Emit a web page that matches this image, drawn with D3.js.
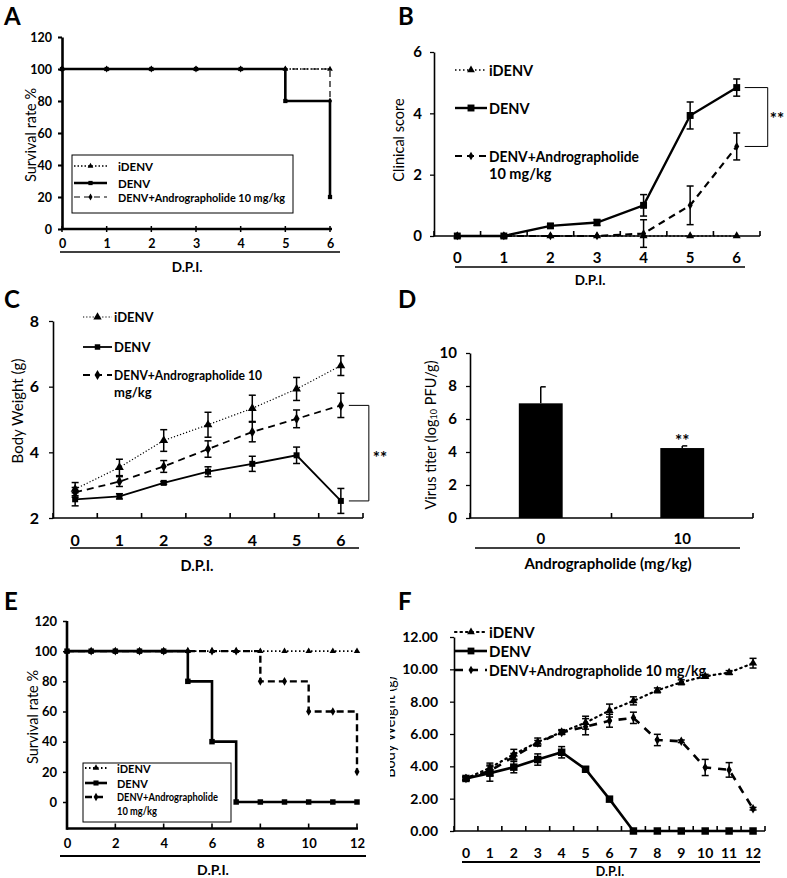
<!DOCTYPE html>
<html><head><meta charset="utf-8">
<script src="https://cdn.jsdelivr.net/npm/d3@7"></script>
<style>
body{margin:0;background:#fff}
svg{display:block}
text{font-family:Lato,"Open Sans",sans-serif;fill:#000}
</style>
</head><body>
<svg id="chart" width="787" height="878"></svg>
<script>
// ---------------- DATA ----------------
// Panel A : survival (%), days 0-6
const daysA = [0,1,2,3,4,5,6];
const survA_iDENV = [100,100,100,100,100,100,100];
const survA_DENV  = [100,100,100,100,100,80,20];
const survA_Andro = [100,100,100,100,100,100,80];

// Panel B : clinical score
const daysB = [0,1,2,3,4,5,6];
const scoreB_iDENV = [0,0,0,0,0,0,0];
const scoreB_DENV  = [0,0,0.33,0.44,1.0,3.93,4.84];
const errB_DENV    = [0,0,0.07,0.1,0.35,0.44,0.28];
const scoreB_Andro = [0,0,0,0,0.08,1.0,2.92];
const errB_Andro   = [0,0,0,0,0.45,0.63,0.44];

// Panel C : body weight (g)
const daysC = [0,1,2,3,4,5,6];
const wC_iDENV = [2.88,3.54,4.36,4.84,5.34,5.93,6.64];
const errC_iDENV = [0.2,0.25,0.33,0.38,0.4,0.35,0.3];
const wC_DENV  = [2.57,2.66,3.07,3.41,3.65,3.91,2.52];
const errC_DENV  = [0.2,0.08,0.04,0.15,0.23,0.25,0.38];
const wC_Andro = [2.78,3.11,3.57,4.1,4.62,5.02,5.43];
const errC_Andro = [0.15,0.15,0.18,0.25,0.3,0.27,0.37];

// Panel D : virus titer
const dosesD = ["0","10"];
const titerD = [6.95,4.24];
const errD   = [1.0,0.13];

// Panel E : survival (%), days 0-12
const daysE = [0,1,2,3,4,5,6,7,8,9,10,11,12];
const survE_iDENV = [100,100,100,100,100,100,100,100,100,100,100,100,100];
const survE_DENV  = [100,100,100,100,100,80,40,0,0,0,0,0,0];
const survE_Andro = [100,100,100,100,100,100,100,100,80,80,60,60,20];

// Panel F : body weight (g), days 0-12
const daysF = [0,1,2,3,4,5,6,7,8,9,10,11,12];
const wF_iDENV = [3.25,3.9,4.75,5.5,6.12,6.7,7.45,8.05,8.7,9.2,9.57,9.8,10.38];
const errF_iDENV = [0.1,0.3,0.3,0.25,0.15,0.4,0.4,0.25,0.15,0.15,0.12,0.12,0.3];
const wF_DENV  = [3.25,3.58,3.95,4.42,4.87,3.82,1.97,0,0,0,0,0,0];
const errF_DENV  = [0.1,0.5,0.35,0.35,0.35,0.15,0.1,0,0,0,0,0,0];
const wF_Andro = [3.25,3.72,4.6,5.45,6.1,6.45,6.82,7.0,5.63,5.55,3.93,3.78,1.38];
const errF_Andro = [0.1,0.3,0.2,0.15,0.1,0.5,0.4,0.35,0.35,0.08,0.5,0.45,0.08];

// ---------------- HELPERS ----------------
const svg = d3.select("#chart");
const FONT = 'Lato,"Open Sans",sans-serif';

function label(g, txt, x, y, size, opts={}) {
  const t = g.append("text").attr("x",x).attr("y",y)
    .attr("font-size",size).attr("font-weight",opts.weight||"bold")
    .attr("text-anchor",opts.anchor||"middle")
    .attr("dominant-baseline","central")
    .text(txt);
  if (opts.len) t.attr("textLength",opts.len).attr("lengthAdjust","spacingAndGlyphs");
  if (opts.rotate) t.attr("transform",`rotate(-90,${x},${y})`);
  return t;
}

function yAxisDraw(g, y, x0, ticks, fmt, fs, sw, pad) {
  const ax = d3.axisLeft(y).tickValues(ticks).tickFormat(fmt).tickSize(4).tickSizeOuter(0).tickPadding(pad);
  const a = g.append("g").attr("transform",`translate(${x0},0)`).call(ax);
  a.select(".domain").attr("stroke-width",sw).attr("stroke","#000");
  a.selectAll(".tick line").attr("stroke-width",sw*0.8).attr("stroke","#000");
  a.selectAll(".tick text").attr("font-size",fs).attr("font-weight","bold").attr("font-family",FONT).attr("fill","#000");
  return a;
}

function bandXAxis(g, x, y0, labelY, fs, sw) {
  const r = x.range();
  g.append("line").attr("x1",r[0]).attr("x2",r[1]).attr("y1",y0).attr("y2",y0)
    .attr("stroke","#000").attr("stroke-width",sw);
  const bounds = d3.range(x.domain().length+1).map(i => r[0] + i*x.step());
  g.selectAll(null).data(bounds).join("line")
    .attr("x1",d=>d).attr("x2",d=>d).attr("y1",y0).attr("y2",y0-5)
    .attr("stroke","#000").attr("stroke-width",sw);
  const ax = d3.axisBottom(x).tickSize(0).tickPadding(0);
  const a = g.append("g").attr("transform",`translate(0,${labelY})`).call(ax);
  a.select(".domain").remove();
  a.selectAll(".tick text").attr("font-size",fs).attr("font-weight","bold").attr("font-family",FONT)
    .attr("dy",null).attr("dominant-baseline","central").attr("fill","#000");
}

function marker(g, type, cx, cy, size) {
  const sym = type==="tri" ? d3.symbolTriangle : type==="sq" ? d3.symbolSquare : d3.symbolDiamond;
  g.append("path").attr("d", d3.symbol(sym, size)()).attr("transform",`translate(${cx},${cy})`).attr("fill","#000");
}

function errBars(g, xs, ys, errs, y, cap, sw) {
  xs.forEach((xv,i) => {
    if (!errs[i]) return;
    const yt = y(ys[i]+errs[i]), yb = y(ys[i]-errs[i]);
    g.append("line").attr("x1",xv).attr("x2",xv).attr("y1",yt).attr("y2",yb).attr("stroke","#000").attr("stroke-width",sw);
    [yt,yb].forEach(v => g.append("line").attr("x1",xv-cap).attr("x2",xv+cap).attr("y1",v).attr("y2",v).attr("stroke","#000").attr("stroke-width",sw));
  });
}

function seriesLine(g, pts, style, curve) {
  const line = d3.line().x(d=>d[0]).y(d=>d[1]).curve(curve||d3.curveLinear);
  const p = g.append("path").attr("d",line(pts)).attr("fill","none").attr("stroke","#000")
    .attr("stroke-width",style.w);
  if (style.dash) p.attr("stroke-dasharray",style.dash);
  if (style.cap) p.attr("stroke-linecap",style.cap);
}

function legendEntry(g, x1, x2, y, style, mtype, msize, txt, tx, fs, weight, len) {
  seriesLine(g, [[x1,y],[x2,y]], style);
  marker(g, mtype, (x1+x2)/2, y, msize);
  label(g, txt, tx, y, fs, {anchor:"start", weight: weight||"bold", len: len});
}

// ---------------- PANEL LABELS ----------------
[["A",4,15],["B",398,15],["C",4,298],["D",398,298],["E",4,600],["F",398,600]].forEach(([t,x,y]) => {
  svg.append("text").attr("x",x).attr("y",y).attr("dominant-baseline","central")
    .attr("font-family","Liberation Sans,Arial,sans-serif").attr("font-weight","bold").attr("font-size",24).text(t);
});

// ---------------- PANEL A ----------------
{
  const g = svg.append("g");
  const x = d3.scaleLinear().domain([0,6]).range([62,330]);
  const y = d3.scaleLinear().domain([0,120]).range([229,37]);
  const sty = {i:{w:1.6,dash:"1.5,2"}, d:{w:2.6}, a:{w:1.2,dash:"6,4"}};
  seriesLine(g, daysA.map((d,i)=>[x(d),y(survA_iDENV[i])]), sty.i, d3.curveStepAfter);
  seriesLine(g, daysA.map((d,i)=>[x(d),y(survA_Andro[i])]), sty.a, d3.curveStepAfter);
  seriesLine(g, daysA.map((d,i)=>[x(d),y(survA_DENV[i])]), sty.d, d3.curveStepAfter);
  daysA.forEach((d,i)=>{ marker(g,"tri",x(d),y(survA_iDENV[i]),14); marker(g,"dia",x(d),y(survA_Andro[i]),14); marker(g,"sq",x(d),y(survA_DENV[i]),18); });
  yAxisDraw(g, y, 62, d3.range(0,121,20), d3.format("d"), 12.5, 2.6, 6);
  const ax = d3.axisBottom(x).tickValues(daysA).tickFormat(d3.format("d")).tickSize(0).tickPadding(0);
  g.append("line").attr("x1",62).attr("x2",332).attr("y1",229).attr("y2",229).attr("stroke","#000").attr("stroke-width",2.6);
  g.selectAll(null).data(daysA).join("line").attr("x1",d=>x(d)).attr("x2",d=>x(d)).attr("y1",226).attr("y2",232).attr("stroke","#000").attr("stroke-width",1.5);
  const a = g.append("g").attr("transform","translate(0,243)").call(ax);
  a.select(".domain").remove();
  a.selectAll(".tick text").attr("font-size",12.5).attr("font-weight","bold").attr("font-family",FONT).attr("dy",null).attr("dominant-baseline","central");
  g.append("line").attr("x1",60).attr("x2",340).attr("y1",252).attr("y2",252).attr("stroke","#000").attr("stroke-width",1.5);
  label(g,"D.P.I.",187,267,13.5);
  label(g,"Survival rate %",30,135,14.5,{rotate:true,weight:"normal"});
  g.append("rect").attr("x",72).attr("y",155).attr("width",221).attr("height",58).attr("fill","#fff").attr("stroke","#000").attr("stroke-width",1);
  legendEntry(g,74,107,166,sty.i,"tri",14,"iDENV",118,11.5);
  legendEntry(g,74,107,183,sty.d,"sq",18,"DENV",118,11.5);
  legendEntry(g,74,107,197,sty.a,"dia",14,"DENV+Andrographolide 10 mg/kg",118,11.5,"bold",167);
}

// ---------------- PANEL B ----------------
{
  const g = svg.append("g");
  const x = d3.scaleBand().domain(daysB.map(String)).range([434,760]);
  const cx = d => x(String(d)) + x.bandwidth()/2;
  const y = d3.scaleLinear().domain([0,6]).range([236,52]);
  const sty = {i:{w:1.5,dash:"1.5,2.5"}, d:{w:2.4}, a:{w:2.2,dash:"7,5"}};
  seriesLine(g, daysB.map((d,i)=>[cx(d),y(scoreB_iDENV[i])]), sty.i);
  seriesLine(g, daysB.map((d,i)=>[cx(d),y(scoreB_Andro[i])]), sty.a);
  seriesLine(g, daysB.map((d,i)=>[cx(d),y(scoreB_DENV[i])]), sty.d);
  errBars(g, daysB.map(cx), scoreB_DENV, errB_DENV, y, 3.5, 1.5);
  errBars(g, daysB.map(cx), scoreB_Andro, errB_Andro, y, 3.5, 1.5);
  yAxisDraw(g, y, 434, [0,2,4,6], d3.format("d"), 15, 1.6, 8);
  bandXAxis(g, x, 236, 257, 15, 1.6);
  daysB.forEach((d,i)=>{ marker(g,"tri",cx(d),y(scoreB_iDENV[i]),28); marker(g,"dia",cx(d),y(scoreB_Andro[i]),22); marker(g,"sq",cx(d),y(scoreB_DENV[i]),48); });
  g.append("line").attr("x1",455).attr("x2",745).attr("y1",267).attr("y2",267).attr("stroke","#000").attr("stroke-width",1.5);
  label(g,"D.P.I.",590,280,13.5);
  label(g,"Clinical score",398,140,14.5,{rotate:true,weight:"normal"});
  const bx1 = cx(6)+8, bx2 = cx(6)+31;
  g.append("path").attr("d",`M${bx1},${y(scoreB_DENV[6])}H${bx2}V${y(scoreB_Andro[6])}H${bx1}`).attr("fill","none").attr("stroke","#000").attr("stroke-width",1);
  label(g,"**",bx2+2,118,17,{anchor:"start"});
  legendEntry(g,455,487,70,sty.i,"tri",26,"iDENV",489,14.5);
  legendEntry(g,455,487,108,sty.d,"sq",48,"DENV",489,14.5);
  legendEntry(g,455,487,156,sty.a,"dia",22,"DENV+Andrographolide",489,14.5,"bold",150);
  label(g,"10 mg/kg",489,173,14.5,{anchor:"start"});
}

// ---------------- PANEL C ----------------
{
  const g = svg.append("g");
  const x = d3.scaleBand().domain(daysC.map(String)).range([53,363]);
  const cx = d => x(String(d)) + x.bandwidth()/2;
  const y = d3.scaleLinear().domain([2,8]).range([518,321]);
  const sty = {i:{w:1.2,dash:"1.2,2"}, d:{w:1.8}, a:{w:1.8,dash:"7,5"}};
  seriesLine(g, daysC.map((d,i)=>[cx(d),y(wC_iDENV[i])]), sty.i);
  seriesLine(g, daysC.map((d,i)=>[cx(d),y(wC_Andro[i])]), sty.a);
  seriesLine(g, daysC.map((d,i)=>[cx(d),y(wC_DENV[i])]), sty.d);
  errBars(g, daysC.map(cx), wC_iDENV, errC_iDENV, y, 3.5, 1.5);
  errBars(g, daysC.map(cx), wC_Andro, errC_Andro, y, 3.5, 1.5);
  errBars(g, daysC.map(cx), wC_DENV, errC_DENV, y, 3.5, 1.5);
  daysC.forEach((d,i)=>{ marker(g,"tri",cx(d),y(wC_iDENV[i]),34); marker(g,"dia",cx(d),y(wC_Andro[i]),32); marker(g,"sq",cx(d),y(wC_DENV[i]),36); });
  yAxisDraw(g, y, 53, [2,4,6,8], d3.format("d"), 16, 1.6, 10);
  bandXAxis(g, x, 518, 539, 16, 1.6);
  g.append("line").attr("x1",70).attr("x2",359).attr("y1",548).attr("y2",548).attr("stroke","#000").attr("stroke-width",1.5);
  label(g,"D.P.I.",197,565,14.5);
  label(g,"Body Weight (g)",17,411,15,{rotate:true,weight:"normal"});
  const bx1 = cx(6)+8, bx2 = cx(6)+28;
  g.append("path").attr("d",`M${bx1},${y(wC_Andro[6])}H${bx2}V${y(wC_DENV[6])}H${bx1}`).attr("fill","none").attr("stroke","#000").attr("stroke-width",1);
  label(g,"**",bx2+4,457,17,{anchor:"start"});
  legendEntry(g,83,112,317,sty.i,"tri",30,"iDENV",114,13);
  legendEntry(g,83,112,347,sty.d,"sq",30,"DENV",114,13);
  legendEntry(g,83,112,375,sty.a,"dia",30,"DENV+Andrographolide 10",114,13,"bold",148);
  label(g,"mg/kg",114,392,13,{anchor:"start"});
}

// ---------------- PANEL D ----------------
{
  const g = svg.append("g");
  const x = d3.scaleBand().domain(dosesD).range([470,753]);
  const y = d3.scaleLinear().domain([0,10]).range([518,353]);
  const bw = x.step()*0.31;
  dosesD.forEach((d,i)=>{
    const c = x(d)+x.bandwidth()/2;
    g.append("rect").attr("x",c-bw/2).attr("width",bw).attr("y",y(titerD[i])).attr("height",y(0)-y(titerD[i])).attr("fill","#000");
    g.append("line").attr("x1",c).attr("x2",c).attr("y1",y(titerD[i])).attr("y2",y(titerD[i]+errD[i])).attr("stroke","#000").attr("stroke-width",1.5);
    g.append("line").attr("x1",c).attr("x2",c+5).attr("y1",y(titerD[i]+errD[i])).attr("y2",y(titerD[i]+errD[i])).attr("stroke","#000").attr("stroke-width",1.5);
  });
  yAxisDraw(g, y, 470, d3.range(0,11,2), d3.format("d"), 15, 1.6, 9);
  bandXAxis(g, x, 518, 538, 15, 1.6);
  label(g,"**",x("10")+x.bandwidth()/2,440,17);
  g.append("line").attr("x1",475).attr("x2",740).attr("y1",548).attr("y2",548).attr("stroke","#000").attr("stroke-width",1.5);
  label(g,"Andrographolide  (mg/kg)",608,563,15);
  const t = label(g,"",430,435,14.5,{rotate:true,weight:"normal"});
  t.append("tspan").text("Virus titer (log");
  t.append("tspan").attr("font-size",9).attr("dy",3).text("10");
  t.append("tspan").attr("dy",-3).text(" PFU/g)");
}

// ---------------- PANEL E ----------------
{
  const g = svg.append("g");
  const x = d3.scaleLinear().domain([0,12]).range([67,357]);
  const y = d3.scaleLinear().domain([0,120]).range([802,621]);
  const yb = y(-17.6);
  const sty = {i:{w:1.8,dash:"1.5,2.5"}, d:{w:2.6}, a:{w:2.4,dash:"7,4"}};
  seriesLine(g, daysE.map((d,i)=>[x(d),y(survE_iDENV[i])]), sty.i, d3.curveStepAfter);
  seriesLine(g, daysE.map((d,i)=>[x(d),y(survE_Andro[i])]), sty.a, d3.curveStepAfter);
  seriesLine(g, daysE.map((d,i)=>[x(d),y(survE_DENV[i])]), sty.d, d3.curveStepAfter);
  daysE.forEach((d,i)=>{ marker(g,"tri",x(d),y(survE_iDENV[i]),18); marker(g,"dia",x(d),y(survE_Andro[i]),22); marker(g,"sq",x(d),y(survE_DENV[i]),30); });
  const ax = d3.axisLeft(y).tickValues(d3.range(0,121,20)).tickSize(4).tickSizeOuter(0).tickPadding(6);
  const a = g.append("g").attr("transform","translate(67,0)").call(ax);
  a.select(".domain").remove();
  a.selectAll(".tick line").attr("stroke-width",1.5);
  a.selectAll(".tick text").attr("font-size",13).attr("font-weight","bold").attr("font-family",FONT);
  g.append("line").attr("x1",67).attr("x2",67).attr("y1",yb+1.3).attr("y2",y(120)).attr("stroke","#000").attr("stroke-width",2.6);
  g.append("line").attr("x1",67).attr("x2",358).attr("y1",yb).attr("y2",yb).attr("stroke","#000").attr("stroke-width",2.6);
  const xt = d3.range(0,13,2);
  g.selectAll(null).data(xt).join("line").attr("x1",d=>x(d)).attr("x2",d=>x(d)).attr("y1",yb).attr("y2",yb-5).attr("stroke","#000").attr("stroke-width",1.6);
  const bx = d3.axisBottom(x).tickValues(xt).tickSize(0).tickPadding(0);
  const b = g.append("g").attr("transform","translate(0,843)").call(bx);
  b.select(".domain").remove();
  b.selectAll(".tick text").attr("font-size",13).attr("font-weight","bold").attr("font-family",FONT).attr("dy",null).attr("dominant-baseline","central");
  g.append("line").attr("x1",60).attr("x2",366).attr("y1",856).attr("y2",856).attr("stroke","#000").attr("stroke-width",2);
  label(g,"D.P.I.",213,869,14);
  label(g,"Survival rate %",32,717,14.5,{rotate:true,weight:"normal"});
  g.append("rect").attr("x",83).attr("y",763).attr("width",148).attr("height",59).attr("fill","#fff").attr("stroke","#000").attr("stroke-width",1);
  legendEntry(g,85,107,768,sty.i,"tri",18,"iDENV",117,11);
  legendEntry(g,85,107,783,sty.d,"sq",26,"DENV",117,11);
  legendEntry(g,85,107,797,sty.a,"dia",20,"DENV+Andrographolide",117,10.5,"bold",101);
  label(g,"10 mg/kg",117,811,10.5,{anchor:"start",weight:"bold",len:40});
}

// ---------------- PANEL F ----------------
{
  svg.append("clipPath").attr("id","clipF").append("rect").attr("x",390).attr("y",590).attr("width",397).attr("height",288);
  const g = svg.append("g").attr("clip-path","url(#clipF)");
  const x = d3.scaleBand().domain(daysF.map(String)).range([454,765]);
  const cx = d => x(String(d)) + x.bandwidth()/2;
  const y = d3.scaleLinear().domain([0,12]).range([831,637]);
  const sty = {i:{w:2.2,dash:"1.5,4",cap:"round"}, d:{w:2.6}, a:{w:2.6,dash:"8,7"}};
  seriesLine(g, daysF.map((d,i)=>[cx(d),y(wF_iDENV[i])]), sty.i);
  seriesLine(g, daysF.map((d,i)=>[cx(d),y(wF_Andro[i])]), sty.a);
  seriesLine(g, daysF.map((d,i)=>[cx(d),y(wF_DENV[i])]), sty.d);
  errBars(g, daysF.map(cx), wF_iDENV, errF_iDENV, y, 3.5, 1.5);
  errBars(g, daysF.map(cx), wF_Andro, errF_Andro, y, 3.5, 1.5);
  errBars(g, daysF.map(cx), wF_DENV, errF_DENV, y, 3.5, 1.5);
  daysF.forEach((d,i)=>{ marker(g,"tri",cx(d),y(wF_iDENV[i]),30); marker(g,"dia",cx(d),y(wF_Andro[i]),26); marker(g,"sq",cx(d),y(wF_DENV[i]),56); });
  yAxisDraw(g, y, 454, d3.range(0,13,2), d3.format(".2f"), 14, 1.6, 12);
  bandXAxis(g, x, 831, 852, 14, 1.6);
  g.append("line").attr("x1",462).attr("x2",760).attr("y1",862).attr("y2",862).attr("stroke","#000").attr("stroke-width",1.8);
  label(g,"D.P.I.",610,871,12.5);
  label(g,"Body Weight (g)",389,727,14.5,{rotate:true,weight:"normal"});
  legendEntry(g,455,487,632,sty.i,"tri",26,"iDENV",489,15);
  legendEntry(g,455,487,651,sty.d,"sq",46,"DENV",489,15);
  legendEntry(g,455,487,670,sty.a,"dia",22,"DENV+Andrographolide 10 mg/kg",489,15,"bold",217);
}
</script>
</body></html>
